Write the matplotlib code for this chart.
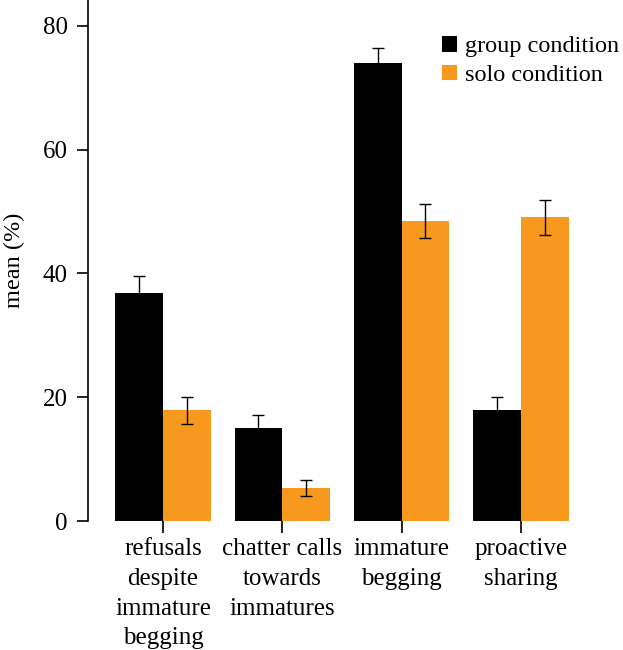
import numpy as np
import matplotlib
matplotlib.use("Agg")
import matplotlib.pyplot as plt

plt.rcParams['font.family'] = ['Liberation Serif', 'DejaVu Serif']

# data
categories = ['refusals\ndespite\nimmature\nbegging',
              'chatter calls\ntowards\nimmatures',
              'immature\nbegging',
              'proactive\nsharing']
group_mean = [36.8, 15.0, 74.0, 17.9]
group_err = [2.8, 2.1, 2.4, 2.1]
solo_mean = [17.9, 5.3, 48.5, 49.1]
solo_err = [2.2, 1.3, 2.8, 2.8]
y_ticks = [0, 20, 40, 60, 80]

BLACK = '#000000'
ORANGE = '#F8991F'

fig = plt.figure(figsize=(6.23, 6.5), dpi=100)
ax = fig.add_axes([88 / 623, 1 - 521 / 650, (610 - 88) / 623, 521 / 650])

x = np.arange(len(categories))
w = 0.4
ax.bar(x - w / 2, group_mean, w, color=BLACK, label='group condition', zorder=2)
ax.bar(x + w / 2, solo_mean, w, color=ORANGE, label='solo condition', zorder=2)
ax.errorbar(x - w / 2, group_mean, yerr=group_err, fmt='none', ecolor='black',
            elinewidth=1.0, capsize=4.3, capthick=1.0, zorder=3)
ax.errorbar(x + w / 2, solo_mean, yerr=solo_err, fmt='none', ecolor='black',
            elinewidth=1.0, capsize=4.3, capthick=1.0, zorder=3)

ax.set_xlim(-0.629, 3.747)
ax.set_ylim(0, 84.2)
ax.set_yticks(y_ticks)
ax.set_xticks(x)
ax.set_xticklabels(categories, fontsize=18, linespacing=1.45)
ax.tick_params(axis='y', labelsize=18, length=8, width=1.2, pad=6.5)
ax.tick_params(axis='x', length=8.5, width=1.2, pad=4)

for s in ['top', 'right', 'bottom']:
    ax.spines[s].set_visible(False)
ax.spines['left'].set_linewidth(1.2)

ax.set_ylabel('mean (%)', fontsize=17.5)
ax.yaxis.set_label_coords(-0.121, 0.5)

ax.legend(loc='upper left', bbox_to_anchor=(442 / 623, 1 - 36 / 650),
          bbox_transform=fig.transFigure, frameon=False, fontsize=17.5,
          handlelength=0.62, handleheight=0.62, handletextpad=0.33,
          labelspacing=0.3, borderpad=0, borderaxespad=0)

fig.savefig('out.png', dpi=100)
